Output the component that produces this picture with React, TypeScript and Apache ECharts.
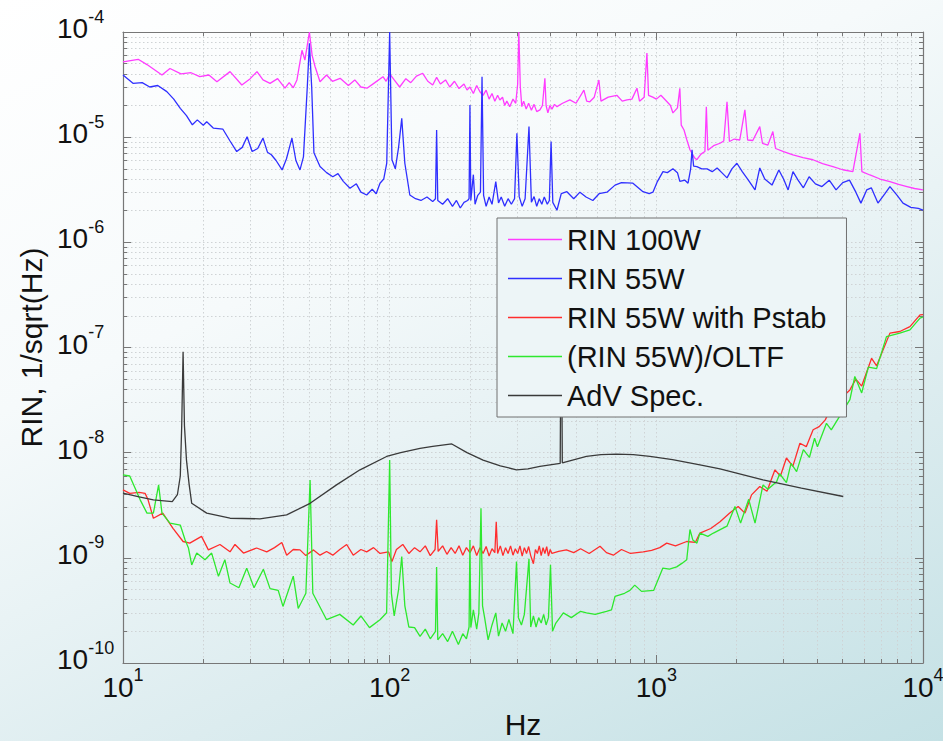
import React, { useEffect, useRef } from "react";
import * as echarts from "echarts";

const FONT = '"Liberation Sans", Arial, Helvetica, sans-serif';

const seriesNames = ["RIN 100W", "RIN 55W", "RIN 55W with Pstab", "(RIN 55W)/OLTF", "AdV Spec."];
const seriesColors = ["#ff3cff", "#2f2fff", "#ff2d2d", "#2ee82e", "#3a3a3a"];

const xTicks = [10, 100, 1000, 10000];
const yTicks = [1e-10, 1e-9, 1e-8, 1e-7, 1e-6, 1e-5, 1e-4];

const rin100W: [number, number][] = [
  [10, 5.2e-5], [11.4, 5.5e-5], [12.3, 4.9e-5], [14.0, 3.9e-5], [15, 4.5e-5], [16.5, 4.0e-5], [18, 4.1e-5],
  [19.4, 3.76e-5], [21, 3.9e-5], [22.5, 3.37e-5], [25.2, 4.2e-5], [27.9, 3.13e-5], [30, 3.6e-5], [31.8, 4.2e-5],
  [33.5, 3.5e-5], [35.6, 3.25e-5], [38, 3.6e-5], [40.5, 2.92e-5], [42, 3.3e-5], [43.5, 2.95e-5], [44.9, 3.5e-5],
  [46.9, 6.7e-5], [48.1, 5.4e-5], [50, 1e-4], [51.2, 6.0e-5], [52.5, 4.7e-5], [54.8, 3.37e-5], [58, 3.9e-5],
  [61, 3.4e-5], [65.2, 3.63e-5], [70, 3.1e-5], [74, 3.5e-5], [78, 3.0e-5], [82.2, 2.92e-5], [88, 3.3e-5],
  [94.4, 3.76e-5], [97, 3.4e-5], [100, 4.0e-5], [104, 3.5e-5], [109, 3.0e-5], [115, 3.6e-5], [120, 3.3e-5],
  [126, 3.8e-5], [133, 4.05e-5], [139, 3.4e-5], [145, 3.13e-5], [150, 3.7e-5], [155, 3.2e-5], [162, 3.5e-5],
  [168, 3.0e-5], [175, 3.4e-5], [182, 2.9e-5], [190, 3.2e-5], [195, 2.81e-5], [200, 3.0e-5], [206, 2.6e-5],
  [212, 3.1e-5], [218, 2.7e-5], [224, 2.5e-5], [230, 2.8e-5], [236, 2.3e-5], [242, 2.6e-5], [248, 2.2e-5],
  [254, 2.5e-5], [259, 2.26e-5], [265, 2.4e-5], [270, 2.0e-5], [275, 2.2e-5], [282, 1.95e-5], [290, 2.3e-5],
  [297, 2.1e-5], [302, 3.2e-5], [305, 1e-4], [309, 3.0e-5], [313, 1.95e-5], [318, 2.2e-5], [325, 1.85e-5],
  [332, 2.1e-5], [340, 1.8e-5], [348, 2.05e-5], [356, 1.75e-5], [366, 1.82e-5], [374, 2.0e-5], [382, 3.63e-5],
  [386, 2.0e-5], [392, 1.7e-5], [399, 2.0e-5], [406, 1.85e-5], [415, 2.05e-5], [424, 1.95e-5], [445, 2.1e-5],
  [474, 2.26e-5], [500, 2.1e-5], [535, 2.8e-5], [548, 2.2e-5], [563, 2.17e-5], [585, 2.4e-5], [609, 3.5e-5],
  [620, 2.2e-5], [660, 2.4e-5], [711, 2.5e-5], [745, 2.2e-5], [776, 2.26e-5], [810, 2.3e-5], [846, 2.92e-5],
  [865, 2.2e-5], [900, 2.4e-5], [922, 6.3e-5], [935, 2.5e-5], [970, 2.4e-5], [1000, 2.3e-5], [1040, 2.5e-5],
  [1097, 2.17e-5], [1130, 2.0e-5], [1154, 1.7e-5], [1200, 1.9e-5], [1225, 2.92e-5], [1240, 1.3e-5],
  [1270, 1.17e-5], [1300, 9.5e-6], [1337, 7.6e-6], [1370, 6.8e-6], [1396, 6.3e-6], [1419, 6.1e-6],
  [1470, 6.9e-6], [1521, 7.3e-6], [1540, 1.95e-5], [1560, 7.5e-6], [1640, 8.3e-6], [1733, 8.75e-6],
  [1790, 9.2e-6], [1841, 2.17e-5], [1880, 9.1e-6], [1960, 9.6e-6], [2055, 9.4e-6], [2148, 1.82e-5],
  [2200, 9.4e-6], [2300, 9.3e-6], [2443, 1.26e-5], [2500, 8.75e-6], [2620, 8.4e-6], [2735, 1.13e-5],
  [2800, 7.8e-6], [3000, 7.3e-6], [3254, 6.8e-6], [3550, 6.4e-6], [3866, 6.1e-6], [4200, 5.6e-6],
  [4594, 5.25e-6], [5000, 4.9e-6], [5458, 4.7e-6], [5800, 1.09e-5], [5900, 4.7e-6], [6324, 4.37e-6],
  [6900, 4.0e-6], [7516, 3.78e-6], [8100, 3.55e-6], [8709, 3.39e-6], [9300, 3.25e-6], [10000, 3.15e-6],
];

const rin55W: [number, number][] = [
  [10, 3.9e-5], [10.9, 3.25e-5], [11.8, 3.3e-5], [12.6, 3.0e-5], [13.5, 3.1e-5], [14.6, 2.71e-5], [15.5, 2.3e-5],
  [16.4, 1.88e-5], [17.3, 1.6e-5], [18.2, 1.31e-5], [19, 1.46e-5], [20, 1.3e-5], [20.6, 1.4e-5], [21.8, 1.22e-5],
  [23.7, 1.19e-5], [25.2, 9.2e-6], [26.7, 7.3e-6], [28, 8.0e-6], [29.2, 1.01e-5], [30.5, 7.3e-6], [32, 7.8e-6],
  [33.5, 9.8e-6], [34.8, 7.2e-6], [36, 6.8e-6], [37.5, 6.0e-6], [39.5, 4.88e-6], [41, 6.2e-6], [43, 9.8e-6],
  [44.5, 6.0e-6], [46.1, 4.88e-6], [47.5, 6.5e-6], [49.1, 3.0e-5], [50, 7.8e-5], [51, 3.0e-5], [52, 7.1e-6],
  [54.8, 5.25e-6], [58, 4.6e-6], [61.2, 4.2e-6], [64, 4.5e-6], [67, 3.8e-6], [71, 3.27e-6], [75, 3.6e-6],
  [78, 3.0e-6], [82, 2.82e-6], [86, 3.2e-6], [89, 2.9e-6], [92, 3.65e-6], [95, 4.0e-6], [97.5, 5.65e-6],
  [100, 1e-4], [102, 6.1e-6], [105, 5.0e-6], [108, 8e-6], [111, 1.51e-5], [114, 5.65e-6], [119, 2.82e-6],
  [125, 2.6e-6], [131, 2.5e-6], [138, 2.7e-6], [145, 2.44e-6], [148.5, 2.6e-6], [150, 1.17e-5], [151.5, 2.5e-6],
  [158, 2.3e-6], [165, 2.6e-6], [172, 2.2e-6], [178, 2.5e-6], [184, 2.12e-6], [190, 2.4e-6], [196, 2.5e-6],
  [198.5, 2.6e-6], [200, 2.02e-5], [201.5, 2.5e-6], [206, 4.4e-6], [209, 2.3e-6], [214, 2.8e-6], [219, 3.0e-6],
  [222, 3.76e-5], [225, 2.8e-6], [230, 2.2e-6], [236, 2.7e-6], [242, 2.3e-6], [250, 3.78e-6], [256, 2.37e-6],
  [262, 2.7e-6], [270, 2.2e-6], [278, 2.6e-6], [286, 2.3e-6], [294, 2.6e-6], [300, 1.09e-5], [306, 2.72e-6],
  [314, 2.2e-6], [322, 2.6e-6], [333, 1.26e-5], [340, 2.4e-6], [348, 2.72e-6], [356, 2.2e-6], [364, 2.6e-6],
  [372, 2.3e-6], [380, 2.7e-6], [390, 2.3e-6], [397, 2.5e-6], [403, 9.1e-6], [409, 2.4e-6], [424, 2.02e-6],
  [440, 2.9e-6], [462, 3.03e-6], [490, 2.6e-6], [517, 3.0e-6], [545, 2.7e-6], [578, 2.5e-6], [610, 2.9e-6],
  [653, 3.0e-6], [700, 3.5e-6], [740, 3.7e-6], [817, 3.65e-6], [891, 3.03e-6], [940, 2.9e-6], [971, 3.0e-6],
  [1010, 3.8e-6], [1059, 4.7e-6], [1100, 4.6e-6], [1154, 5.0e-6], [1200, 4.6e-6], [1225, 3.8e-6],
  [1280, 3.9e-6], [1315, 3.65e-6], [1345, 5.0e-6], [1361, 7.6e-6], [1380, 5.3e-6], [1419, 5.25e-6],
  [1480, 5.0e-6], [1550, 5.0e-6], [1620, 4.7e-6], [1690, 5.1e-6], [1760, 4.6e-6], [1841, 4.1e-6],
  [1920, 5.0e-6], [2005, 5.65e-6], [2100, 4.7e-6], [2200, 4.0e-6], [2345, 3.15e-6], [2443, 5.1e-6],
  [2550, 4.0e-6], [2715, 3.5e-6], [2880, 4.88e-6], [3000, 4.0e-6], [3120, 3.15e-6], [3254, 4.7e-6],
  [3400, 3.9e-6], [3560, 3.3e-6], [3740, 4.2e-6], [3950, 3.6e-6], [4180, 3.39e-6], [4450, 3.9e-6],
  [4720, 3.15e-6], [5000, 3.7e-6], [5300, 3.9e-6], [5600, 3.0e-6], [5850, 2.36e-6], [6150, 3.15e-6],
  [6400, 3.3e-6], [6777, 2.36e-6], [7200, 2.9e-6], [7516, 3.39e-6], [8000, 2.8e-6], [8414, 2.36e-6],
  [9000, 2.15e-6], [9600, 2.1e-6], [10000, 2.02e-6],
];

const rin55WPstab: [number, number][] = [
  [10, 4.43e-9], [10.6, 4.1e-9], [11.5, 4.2e-9], [12.1, 4.1e-9], [12.4, 3.6e-9], [13.0, 2.38e-9], [14.1, 2.66e-9],
  [15.4, 1.91e-9], [16.8, 1.43e-9], [17.8, 1.38e-9], [19.7, 1.6e-9], [20.9, 1.19e-9], [23.1, 1.34e-9],
  [25.2, 1.14e-9], [26.3, 1.34e-9], [28.3, 1.11e-9], [31.7, 1.24e-9], [34.6, 1.14e-9], [37, 1.25e-9],
  [39.4, 1.4e-9], [41.1, 1.06e-9], [43.5, 1.2e-9], [46.1, 1.19e-9], [48.5, 1.05e-9], [51.8, 1.19e-9],
  [54.8, 1.06e-9], [58, 1.15e-9], [61.2, 1.06e-9], [65, 1.2e-9], [69, 1.34e-9], [73, 1.06e-9], [78, 1.2e-9],
  [82, 1.14e-9], [87, 1.25e-9], [92, 1.1e-9], [99, 1.14e-9], [102, 9.2e-10], [106, 1.2e-9], [112, 1.34e-9],
  [118, 1.1e-9], [124, 1.25e-9], [130, 1.14e-9], [136, 1.3e-9], [142, 1.05e-9], [148, 1.2e-9], [150, 2.3e-9],
  [152, 1.15e-9], [158, 1.3e-9], [164, 1.08e-9], [170, 1.25e-9], [176, 1.1e-9], [182, 1.3e-9], [188, 1.06e-9],
  [194, 1.25e-9], [200, 1.12e-9], [206, 1.3e-9], [212, 1.05e-9], [218, 1.25e-9], [224, 1.1e-9], [230, 1.28e-9],
  [236, 1.04e-9], [242, 1.22e-9], [248, 1.12e-9], [251, 2.2e-9], [254, 1.1e-9], [260, 1.3e-9], [266, 1.05e-9],
  [272, 1.25e-9], [278, 1.1e-9], [284, 1.3e-9], [290, 1.06e-9], [296, 1.22e-9], [302, 1.1e-9], [308, 1.3e-9],
  [314, 1.04e-9], [320, 1.25e-9], [326, 1.1e-9], [332, 1.28e-9], [338, 1.05e-9], [346, 8.8e-10], [352, 1.2e-9],
  [358, 1.1e-9], [364, 1.3e-9], [370, 1.05e-9], [376, 1.25e-9], [382, 1.1e-9], [388, 1.28e-9], [394, 1.04e-9],
  [400, 1.2e-9], [406, 1.1e-9], [430, 1.15e-9], [460, 1.19e-9], [490, 1.12e-9], [520, 1.22e-9], [560, 1.1e-9],
  [615, 1.29e-9], [650, 1.12e-9], [690, 1.06e-9], [740, 1.2e-9], [800, 1.1e-9], [893, 1.14e-9], [960, 1.18e-9],
  [1030, 1.25e-9], [1094, 1.38e-9], [1180, 1.3e-9], [1300, 1.43e-9], [1400, 1.4e-9], [1457, 1.72e-9],
  [1600, 1.9e-9], [1733, 2.2e-9], [1880, 2.66e-9], [2027, 3.08e-9], [2150, 2.66e-9], [2275, 3.97e-9],
  [2443, 4.77e-9], [2600, 4.3e-9], [2785, 6.87e-9], [2920, 6.0e-9], [3075, 8.9e-9], [3250, 7.4e-9],
  [3455, 1.23e-8], [3650, 1.14e-8], [3872, 1.65e-8], [4080, 1.77e-8], [4300, 2.05e-8], [4613, 2.95e-8],
  [5000, 3.4e-8], [5320, 3.95e-8], [5600, 5.0e-8], [5890, 4.3e-8], [6417, 7.9e-8], [6700, 6.7e-8],
  [7516, 1.37e-7], [8184, 1.42e-7], [8933, 1.58e-7], [9747, 2.04e-7], [10000, 2.05e-7],
];

const rin55WOltf: [number, number][] = [
  [10, 6.15e-9], [10.6, 6.0e-9], [11.6, 3.56e-9], [12.3, 2.66e-9], [13.0, 2.66e-9], [13.6, 4.94e-9], [14.0, 2.66e-9],
  [15, 2.14e-9], [16.4, 2.05e-9], [17.1, 1.48e-9], [17.6, 1.24e-9], [18.1, 8.57e-10], [18.9, 1.11e-9],
  [20.3, 9.6e-10], [21.5, 1.11e-9], [22.8, 6.67e-10], [24.1, 9.6e-10], [25.2, 5.76e-10], [27.2, 5.2e-10],
  [29.1, 7.98e-10], [31, 5.2e-10], [33.6, 7.8e-10], [35.6, 5.1e-10], [38.2, 4.9e-10], [39.8, 3.45e-10],
  [43.5, 6.7e-10], [45.4, 3.3e-10], [48.5, 4.6e-10], [50.3, 5.5e-9], [51.5, 4.6e-10], [58, 2.58e-10],
  [65, 2.9e-10], [73, 2.3e-10], [78, 2.8e-10], [84, 2.17e-10], [92, 2.58e-10], [97.4, 3.0e-10], [100, 8.5e-9],
  [101.5, 4.6e-10], [104, 2.8e-10], [108, 5e-10], [111, 1.03e-9], [114, 3.5e-10], [118, 2.2e-10], [124, 2.17e-10],
  [130, 1.79e-10], [136, 2.1e-10], [142, 1.7e-10], [148.5, 2.0e-10], [150, 8.2e-10], [151.5, 1.66e-10],
  [158, 1.9e-10], [165, 1.6e-10], [172, 2.0e-10], [181, 1.5e-10], [188, 1.9e-10], [194, 1.7e-10],
  [198.5, 2.2e-10], [200, 1.48e-9], [201.5, 2.17e-10], [206, 3.2e-10], [212, 2.1e-10], [216, 3.0e-10],
  [220, 2.96e-9], [223, 3.5e-10], [227, 2.7e-10], [234, 1.66e-10], [242, 2.3e-10], [250, 3.0e-10],
  [256, 1.8e-10], [264, 2.4e-10], [272, 2.0e-10], [280, 2.6e-10], [290, 1.9e-10], [299, 9.2e-10], [304, 2.7e-10],
  [312, 2.3e-10], [320, 2.9e-10], [333, 9.8e-10], [338, 2.2e-10], [346, 2.8e-10], [354, 2.2e-10], [362, 2.7e-10],
  [370, 2.4e-10], [378, 2.9e-10], [386, 2.3e-10], [394, 2.7e-10], [401, 8.6e-10], [408, 2.0e-10], [420, 2.4e-10],
  [448, 3.0e-10], [480, 2.7e-10], [520, 3.1e-10], [547, 3.0e-10], [590, 2.9e-10], [650, 3.1e-10], [679, 3.2e-10],
  [700, 4.3e-10], [760, 4.6e-10], [796, 4.9e-10], [830, 5.5e-10], [880, 4.8e-10], [977, 4.9e-10],
  [1058, 8.0e-10], [1120, 7.8e-10], [1192, 8.2e-10], [1250, 8.9e-10], [1300, 9.6e-10], [1337, 1.86e-9],
  [1370, 1.48e-9], [1420, 1.38e-9], [1457, 1.72e-9], [1560, 1.6e-9], [1637, 1.72e-9], [1840, 2.0e-9],
  [1972, 3.08e-9], [2070, 2.14e-9], [2220, 3.6e-9], [2345, 2.14e-9], [2512, 4.94e-9], [2620, 4.5e-9],
  [2825, 5.3e-9], [2900, 6.3e-9], [3075, 5.2e-9], [3200, 7.9e-9], [3358, 6.6e-9], [3560, 1.07e-8],
  [3750, 9.0e-9], [3920, 1.37e-8], [4020, 1.14e-8], [4345, 1.9e-8], [4530, 1.65e-8], [5320, 3.2e-8],
  [5550, 5.3e-8], [5890, 3.7e-8], [6238, 6.5e-8], [6700, 6.3e-8], [7295, 1.27e-7], [8184, 1.37e-7],
  [8933, 1.47e-7], [9747, 1.9e-7], [10000, 1.95e-7],
];

const advSpec: [number, number][] = [
  [10, 4.12e-9], [11.5, 3.8e-9], [13.0, 3.56e-9], [15.3, 3.43e-9], [16.0, 4.0e-9], [16.4, 6e-9], [16.6, 1.77e-8],
  [16.8, 9.1e-8], [17.0, 1.8e-8], [17.3, 8.5e-9], [17.7, 5e-9], [18.1, 3.3e-9], [20.6, 2.66e-9], [25.2, 2.38e-9],
  [32.6, 2.35e-9], [41.1, 2.56e-9], [50.3, 3.3e-9], [63.2, 4.94e-9], [77.4, 6.87e-9], [97.4, 9.2e-9],
  [110, 1.0e-8], [130, 1.1e-8], [145, 1.15e-8], [171, 1.21e-8], [195, 1.0e-8], [224, 8.5e-9], [260, 7.5e-9],
  [299, 6.87e-9], [330, 7.0e-9], [366, 7.4e-9], [436, 7.9e-9], [440, 5e-7], [444, 8.0e-9], [547, 9.2e-9],
  [620, 9.6e-9], [709, 9.7e-9], [820, 9.6e-9], [946, 9.2e-9], [1150, 8.6e-9], [1457, 7.65e-9], [1733, 7.0e-9],
  [2000, 6.4e-9], [2512, 5.5e-9], [3500, 4.6e-9], [5024, 3.83e-9],
];

const seriesData = [rin100W, rin55W, rin55WPstab, rin55WOltf, advSpec];

const powLabel = (v: number) => `{b|10}{s|${Math.round(Math.log10(v))}}`;

const labelRich = {
  b: { fontSize: 28, lineHeight: 28, verticalAlign: "bottom", fontFamily: FONT, color: "#111" },
  s: { fontSize: 18, lineHeight: 18, padding: [0, 0, 17, 0], verticalAlign: "bottom", fontFamily: FONT, color: "#111" },
};

const gridLine = { show: true, lineStyle: { color: "#cfd3d5", width: 1, type: [1.5, 2.5] } };
const axisLineStyle = { show: true, lineStyle: { color: "#777", width: 1.2 } };

export default function App() {
  const ref = useRef<HTMLDivElement>(null);
  useEffect(() => {
    if (!ref.current) return;
    const chart = echarts.init(ref.current, null, { renderer: "svg" });
    const baseX = {
      type: "log",
      logBase: 10,
      min: xTicks[0],
      max: xTicks[xTicks.length - 1],
      interval: 1,
      axisLine: axisLineStyle,
      axisTick: { show: true, inside: true, length: 8, lineStyle: { color: "#777" } },
      minorTick: { show: true, splitNumber: 9, length: 4, lineStyle: { color: "#777" } },
    };
    const baseY = {
      type: "log",
      logBase: 10,
      min: yTicks[0],
      max: yTicks[yTicks.length - 1],
      interval: 1,
      axisLine: axisLineStyle,
      axisTick: { show: true, inside: true, length: 8, lineStyle: { color: "#777" } },
      minorTick: { show: true, splitNumber: 9, length: 4, lineStyle: { color: "#777" } },
    };
    const option: any = {
      animation: false,
      backgroundColor: "transparent",
      grid: { left: 123, right: 20, top: 32, bottom: 78, containLabel: false, outerBoundsMode: "none" },
      legend: {
        data: seriesNames,
        orient: "vertical",
        left: 497,
        top: 218,
        icon: "rect",
        itemWidth: 54,
        itemHeight: 1.6,
        itemGap: 10,
        padding: [7, 20, 7, 11],
        backgroundColor: "#edf5f7",
        borderColor: "#707070",
        borderWidth: 1,
        borderRadius: 0,
        selectedMode: false,
        z: 10,
        textStyle: { fontSize: 29, lineHeight: 29, fontFamily: FONT, color: "#111" },
      },
      xAxis: [
        {
          ...baseX,
          position: "bottom",
          name: "Hz",
          nameLocation: "middle",
          nameGap: 46,
          nameTextStyle: { fontSize: 30, fontFamily: FONT, color: "#111" },
          axisLabel: {
            show: true,
            formatter: powLabel,
            margin: 10,
            padding: [0, 0, 7, 0],
            showMinLabel: true,
            showMaxLabel: true,
            rich: labelRich,
          },
          splitLine: gridLine,
          minorSplitLine: gridLine,
        },
        {
          ...baseX,
          position: "top",
          axisLabel: { show: false },
          splitLine: { show: false },
          minorSplitLine: { show: false },
        },
      ],
      yAxis: [
        {
          ...baseY,
          position: "left",
          name: "RIN, 1/sqrt(Hz)",
          nameLocation: "middle",
          nameGap: 76,
          nameTextStyle: { fontSize: 30, fontFamily: FONT, color: "#111" },
          axisLabel: {
            show: true,
            formatter: powLabel,
            margin: 66,
            align: "left",
            padding: [0, 0, 7, 0],
            showMinLabel: true,
            showMaxLabel: true,
            rich: labelRich,
          },
          splitLine: gridLine,
          minorSplitLine: gridLine,
        },
        {
          ...baseY,
          position: "right",
          axisLabel: { show: false },
          splitLine: { show: false },
          minorSplitLine: { show: false },
        },
      ],
      series: seriesNames.map((name, i) => ({
        name,
        type: "line",
        xAxisIndex: 0,
        yAxisIndex: 0,
        data: seriesData[i],
        symbol: "none",
        showSymbol: false,
        clip: true,
        lineStyle: { color: seriesColors[i], width: 1.3 },
        itemStyle: { color: seriesColors[i] },
        emphasis: { disabled: true },
      })),
    };
    chart.setOption(option);
    return () => chart.dispose();
  }, []);
  return (
    <div
      style={{
        position: "fixed",
        left: 0,
        top: 0,
        width: 943,
        height: 741,
        background: "linear-gradient(155deg, #ffffff 0%, #f6fafb 35%, #dcecef 70%, #c4e1e5 100%)",
      }}
    >
      <div ref={ref} style={{ width: 943, height: 741 }} />
    </div>
  );
}
